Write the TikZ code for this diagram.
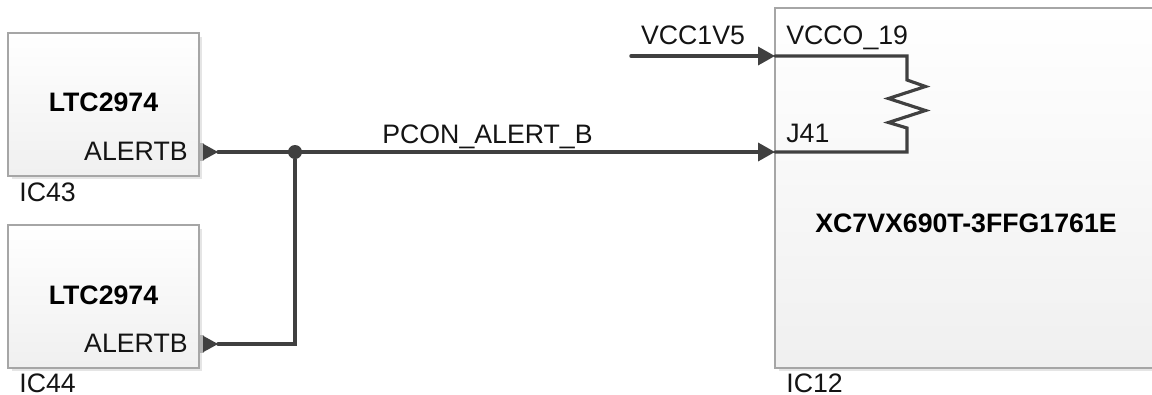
\documentclass[tikz,border=0pt]{standalone}
\usepackage{fontspec}
\setmainfont{Liberation Sans}
\usetikzlibrary{arrows.meta,shapes.geometric,shadows}
\tikzset{
  chipbox/.style={draw=gray!70, line width=0.8pt, top color=white, bottom color=black!6,
    copy shadow={shadow xshift=0.07cm, shadow yshift=-0.07cm, draw=none, fill=black!10},
    inner sep=0pt, outer sep=0pt},
  wire/.style={draw=wiregray, line width=2pt, line cap=round, line join=miter},
  wiretip/.style={-{Triangle[length=0.34cm,width=0.36cm]}},
  porttip/.style={isosceles triangle, isosceles triangle stretches, fill=wiregray,
    minimum height=0.3cm, minimum width=0.33cm, inner sep=0pt, outer sep=0pt, anchor=lower side},
  portstub/.style={fill=gray!60, minimum width=0.08cm, minimum height=0.36cm,
    inner sep=0pt, outer sep=0pt, anchor=east},
  dot/.style={circle, fill=wiregray, minimum size=0.28cm, inner sep=0pt},
  pintext/.style={font=\fontsize{15.2}{18}\selectfont, text=black!92, inner sep=0pt},
  chiptext/.style={pintext, font=\fontsize{15.2}{18}\selectfont\bfseries, text=black}
}
\begin{document}
\begin{tikzpicture}[x=0.02cm,y=-0.02cm]
    \colorlet{wiregray}{black!75}
    \useasboundingbox (0,0) rectangle (1152,395);
    \fill[white] (0,0) rectangle (1152,395);

    % The chips
    \node[chipbox, minimum width=3.82cm, minimum height=2.86cm] (ic43) at (103.5,104.5) {};
    \node[chipbox, minimum width=3.82cm, minimum height=2.86cm] (ic44) at (103.5,296.5) {};
    \node[chipbox, minimum width=7.7cm, minimum height=7.2cm] (ic12) at (967.5,188) {};

    % Chip names
    \node[chiptext, anchor=base] (nameA) at (103.5,112) {LTC2974};
    \node[chiptext, anchor=base] (nameB) at (103.5,304) {LTC2974};
    \node[chiptext, anchor=base] (nameC) at (966,232) {XC7VX690T-3FFG1761E};

    % Pin labels
    \node[pintext, anchor=base east] (alertA) at (188,160) {ALERTB};
    \node[pintext, anchor=base east] (alertB) at (188,352) {ALERTB};
    \node[pintext, anchor=base west] (vcco) at (786,45) {VCCO\_19};
    \node[pintext, anchor=base west] (jpin) at (786,142) {J41};

    % Reference designators
    \node[pintext, anchor=base west] (refA) at (19,201.5) {IC43};
    \node[pintext, anchor=base west] (refB) at (19,392) {IC44};
    \node[pintext, anchor=base west] (refC) at (786,392) {IC12};

    % Output ports
    \node[portstub] (stubA) at (203.5,152) {};
    \node[portstub] (stubB) at (203.5,344) {};
    \node[porttip] (tipA) at (203,152) {};
    \node[porttip] (tipB) at (203,344) {};

    % Net names
    \node[pintext, anchor=base] (netpcon) at (487.5,143) {PCON\_ALERT\_B};
    \node[pintext, anchor=base] (netvcc) at (693,45) {VCC1V5};

    % Pin and wire ends
    \coordinate (vccin) at (631,56);
    \coordinate (vccpin) at (775,56);
    \coordinate (alertpin) at (775,152);
    \node[dot] (joint) at (295,152) {};

    % Wires
    \draw[wire, wiretip] (tipA.apex) -- (alertpin);
    \draw[wire] (tipB.apex) -| (joint);
    \draw[wire, wiretip] (vccin) -- (vccpin);

    % Pull-up inside the FPGA
    \draw[wire, line width=1.8pt] (vccpin) -- (907,56) -- (907,80) -- (925.5,86.5)
          -- (888.5,98.5) -- (925.5,110.5) -- (888.5,122.5) -- (907,128)
          -- (907,152) -- (alertpin);
\end{tikzpicture}
\end{document}
